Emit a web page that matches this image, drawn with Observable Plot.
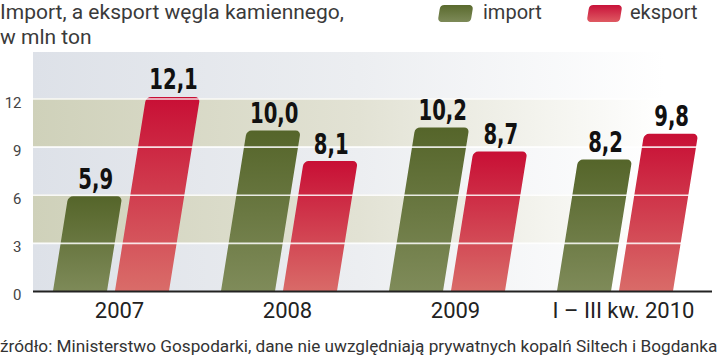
<!DOCTYPE html>
<html>
<head>
<meta charset="utf-8">
<script src="https://cdn.jsdelivr.net/npm/d3@7"></script>
<script src="https://cdn.jsdelivr.net/npm/@observablehq/plot@0.6"></script>
<style>
  html, body { margin: 0; padding: 0; background: #fff; }
  body { width: 720px; height: 359px; overflow: hidden; font-family: Roboto, sans-serif; color: #333; }
  #head { position: relative; height: 48px; }
  #title { position: absolute; left: 0; top: 0; font-size: 21px; line-height: 25px; color: #3a3a3a; white-space: nowrap; }
  .sw { position: absolute; top: 5px; width: 33px; height: 17px; border-radius: 4px; transform: skewX(-9deg); }
  .lt { position: absolute; top: 0; font-size: 20px; line-height: 25px; color: #3a3a3a; }
  #chart svg { display: block; }
  #caption { height: 28px; line-height: 28px; padding-top: 1px; font-size: 17.2px; color: #333; white-space: nowrap; }
  g[aria-label^="x-axis"] text { font-size: 22px; fill: #222; }
  g[aria-label^="y-axis"] text { font-size: 15px; fill: #444; }
</style>
</head>
<body>
<div id="head">
  <div id="title">Import, a eksport węgla kamiennego,<br>w mln ton</div>
  <div id="legend"></div>
</div>
<div id="chart"></div>
<div id="caption">źródło: Ministerstwo Gospodarki, dane nie uwzględniają prywatnych kopalń Siltech i Bogdanka</div>
<script>
// ---- data ----
const groups = ["2007", "2008", "2009", "I – III kw. 2010"];
const importVals = [5.9, 10.0, 10.2, 8.2];
const eksportVals = [12.1, 8.1, 8.7, 9.8];
const seriesNames = ["import", "eksport"];
const yTicks = [0, 3, 6, 9, 12];
const yMax = 14.9;

// ---- layout ----
const W = 720, H = 283;
const mL = 33, mR = 8, mT = 4, mB = 40;
const pInner = 0.312, pOuter = 0.171, alignX = 0.33;
const gap = 8;
const skewK = 0.16;
const skewDeg = Math.atan(skewK) * 180 / Math.PI;
const labelScaleX = 0.78;

const band = d3.scaleBand().domain(groups).range([mL, W - mR])
  .paddingInner(pInner).paddingOuter(pOuter).align(alignX);
const B = band.bandwidth();
const barW = (B - gap) / 2;

const imp = groups.map((g, i) => ({group: g, value: importVals[i]}));
const eks = groups.map((g, i) => ({group: g, value: eksportVals[i]}));
const bands = d3.pairs([...yTicks, yMax]);
const bandsGray = bands.filter((d, i) => i % 2 === 0);
const bandsBeige = bands.filter((d, i) => i % 2 === 1);
const fmt = d => d3.format(".1f")(d.value).replace(".", ",");

const labelFont = "'DejaVu Sans Condensed', 'DejaVu Sans', sans-serif";

const chart = Plot.plot({
  width: W, height: H,
  marginLeft: mL, marginRight: mR, marginTop: mT, marginBottom: mB,
  style: {fontFamily: "Roboto, sans-serif", fontSize: "15px", color: "#333", background: "transparent"},
  x: {domain: groups, paddingInner: pInner, paddingOuter: pOuter, align: alignX, tickSize: 0, tickPadding: 11, label: null},
  y: {domain: [0, yMax], ticks: yTicks, tickSize: 0, tickPadding: 12, label: null},
  marks: [
    Plot.rect(bandsGray, {y1: d => d[0], y2: d => d[1], fill: "url(#bgGray)"}),
    Plot.rect(bandsBeige, {y1: d => d[0], y2: d => d[1], fill: "url(#bgBeige)"}),
    Plot.barY(imp, {x: "group", y: "value", fill: "url(#gImp)", rx: 5, insetLeft: 0, insetRight: barW + gap}),
    Plot.barY(eks, {x: "group", y: "value", fill: "url(#gEks)", rx: 5, insetLeft: barW + gap, insetRight: 0}),
    Plot.ruleY(yTicks.filter(t => t > 0), {stroke: "#fff", strokeWidth: 1.6, strokeOpacity: 0.85}),
    Plot.ruleY([0], {stroke: "#222", strokeWidth: 2.2}),
    Plot.text(imp, {x: "group", y: "value", text: fmt, dx: -(gap / 2 + barW / 2), dy: -8, lineAnchor: "bottom",
      fontSize: 28, fontWeight: "bold", fontFamily: labelFont, fill: "#111"}),
    Plot.text(eks, {x: "group", y: "value", text: fmt, dx: (gap / 2 + barW / 2), dy: -8, lineAnchor: "bottom",
      fontSize: 28, fontWeight: "bold", fontFamily: labelFont, fill: "#111"})
  ]
});

// ---- defs: gradients + baseline clip ----
const y0 = H - mB;
const svg = d3.select(chart);
const defs = svg.insert("defs", ":first-child");
function vgrad(id, top, bottom) {
  const g = defs.append("linearGradient").attr("id", id).attr("x1", 0).attr("y1", 0).attr("x2", 0).attr("y2", 1);
  g.append("stop").attr("offset", 0).attr("stop-color", top);
  g.append("stop").attr("offset", 1).attr("stop-color", bottom);
}
function hgrad(id, stops) {
  const g = defs.append("linearGradient").attr("id", id).attr("x1", 0).attr("y1", 0).attr("x2", 1).attr("y2", 0);
  stops.forEach(([o, c]) => g.append("stop").attr("offset", o).attr("stop-color", c));
}
vgrad("gImp", "#55652a", "#818d5c");
vgrad("gEks", "#c80f35", "#da706b");
hgrad("bgGray", [[0, "#dde1e8"], [0.48, "#eceef1"], [0.93, "#ffffff"]]);
hgrad("bgBeige", [[0, "#cfd1ba"], [0.48, "#e2e2d4"], [0.93, "#ffffff"]]);
defs.append("clipPath").attr("id", "clipBase").attr("clipPathUnits", "userSpaceOnUse")
  .append("rect").attr("x", -2000).attr("y", -2000).attr("width", 5000).attr("height", 2000 + y0);

const skewT = `translate(0,${y0}) skewX(${-skewDeg}) translate(0,${-y0})`;
svg.selectAll('g[aria-label="bar"]').each(function() {
  const g = d3.select(this);
  const ex = g.attr("transform") || "";
  g.attr("transform", `${skewT} ${ex}`).attr("clip-path", "url(#clipBase)");
  g.selectAll("rect").each(function() {
    const r = d3.select(this);
    r.attr("height", +r.attr("height") + 8);
  });
});
// shift value labels to follow the slant of the bars, and narrow them
svg.selectAll('g[aria-label="text"] text').each(function() {
  const t = d3.select(this);
  const tr = t.attr("transform") || "";
  const m = /translate\(\s*([-\d.e]+)[ ,]+([-\d.e]+)\s*\)/.exec(tr);
  let x, yy;
  if (m) { x = +m[1]; yy = +m[2]; }
  else { x = +(t.attr("x") || 0); yy = +(t.attr("y") || 0); }
  t.attr("x", null).attr("y", null);
  t.attr("transform", `translate(${x + skewK * (y0 - yy)},${yy}) scale(${labelScaleX},1)`);
});
// y tick labels sit a little below their gridlines; x labels slightly right
svg.selectAll('g[aria-label^="y-axis"]').each(function() {
  const g = d3.select(this);
  g.attr("transform", (g.attr("transform") || "") + " translate(0,4)");
});
svg.selectAll('g[aria-label^="x-axis"]').each(function() {
  const g = d3.select(this);
  g.attr("transform", (g.attr("transform") || "") + " translate(8,0)");
});

document.getElementById("chart").appendChild(chart);

// ---- legend ----
const legend = document.getElementById("legend");
const legPos = [{sw: 439, tx: 483, grad: "linear-gradient(#5a6a2e, #7d8a58)"},
                {sw: 588, tx: 630, grad: "linear-gradient(#c8123a, #df5a62)"}];
seriesNames.forEach((name, i) => {
  const s = document.createElement("div");
  s.className = "sw"; s.style.left = legPos[i].sw + "px"; s.style.background = legPos[i].grad;
  legend.appendChild(s);
  const t = document.createElement("div");
  t.className = "lt"; t.style.left = legPos[i].tx + "px"; t.textContent = name;
  legend.appendChild(t);
});
</script>
</body>
</html>
